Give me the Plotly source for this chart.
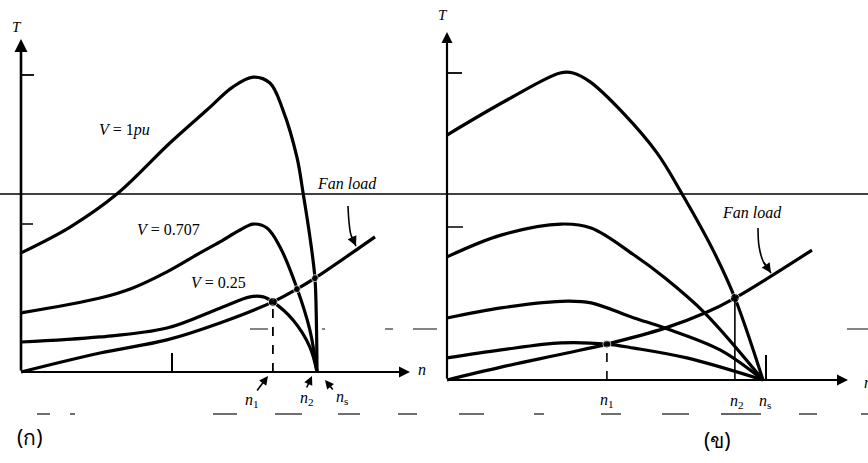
import plotly.graph_objects as go

W, H = 868, 463

# ---------------- data (per-unit speed n/ns, per-unit torque) ----------------
# Panel (ก): constant-frequency, variable-voltage
left_v1_n = [0.0, 0.166, 0.324, 0.503, 0.628, 0.716, 0.784, 0.841, 0.885, 0.932, 0.953, 0.976, 0.993, 0.998, 1.0]
left_v1_T = [0.401, 0.488, 0.599, 0.771, 0.882, 0.960, 0.993, 0.973, 0.882, 0.724, 0.603, 0.455, 0.316, 0.165, 0.0]
left_v0707_n = [0.0, 0.267, 0.378, 0.493, 0.605, 0.672, 0.740, 0.784, 0.831, 0.875, 0.932, 0.976, 1.0]
left_v0707_T = [0.199, 0.249, 0.283, 0.337, 0.401, 0.438, 0.478, 0.498, 0.485, 0.421, 0.283, 0.141, 0.0]
left_v025_n = [0.0, 0.267, 0.493, 0.672, 0.774, 0.818, 0.851, 0.919, 0.976, 1.0]
left_v025_T = [0.101, 0.118, 0.148, 0.215, 0.253, 0.253, 0.236, 0.175, 0.084, 0.0]
left_fan_n = [0.0, 0.267, 0.493, 0.672, 0.851, 0.932, 0.993, 1.196]
left_fan_T = [0.0, 0.064, 0.108, 0.165, 0.236, 0.279, 0.316, 0.455]
left_op_n = [0.851, 0.932, 0.993]
left_op_T = [0.236, 0.279, 0.316]
left_n1 = 0.851

# Panel (ข): variable-frequency curves
right_c1_n = [0.0, 0.190, 0.358, 0.399, 0.453, 0.557, 0.665, 0.744, 0.842, 0.911, 1.0]
right_c1_T = [0.798, 0.912, 1.0, 1.0, 0.971, 0.870, 0.739, 0.606, 0.423, 0.267, 0.0]
right_c2_n = [0.0, 0.171, 0.361, 0.456, 0.592, 0.690, 0.816, 1.0]
right_c2_T = [0.401, 0.472, 0.508, 0.495, 0.407, 0.332, 0.218, 0.0]
right_c3_n = [0.0, 0.171, 0.380, 0.456, 0.592, 0.690, 0.864, 1.0]
right_c3_T = [0.202, 0.235, 0.257, 0.251, 0.202, 0.169, 0.098, 0.0]
right_c4_n = [0.0, 0.171, 0.361, 0.506, 0.592, 0.759, 1.0]
right_c4_T = [0.072, 0.098, 0.121, 0.117, 0.104, 0.072, 0.0]
right_fan_n = [0.0, 0.171, 0.380, 0.506, 0.690, 0.816, 0.911, 1.155]
right_fan_T = [0.0, 0.042, 0.088, 0.117, 0.169, 0.218, 0.267, 0.423]
right_op_n = [0.506, 0.911]
right_op_T = [0.117, 0.267]
right_n1, right_n2 = 0.506, 0.911

# ---------------- figure ----------------
fig = go.Figure()
LW = 3.2
spl = dict(shape="spline", smoothing=1.0)


def curve(n, T, xa, ya, w=LW):
    fig.add_trace(go.Scatter(x=n, y=T, mode="lines", xaxis=xa, yaxis=ya,
                             line=dict(color="black", width=w, **spl),
                             hoverinfo="skip", showlegend=False))


for n, T in [(left_v1_n, left_v1_T), (left_v0707_n, left_v0707_T),
             (left_v025_n, left_v025_T), (left_fan_n, left_fan_T)]:
    curve(n, T, "x", "y")
for n, T in [(right_c1_n, right_c1_T), (right_c2_n, right_c2_T),
             (right_c3_n, right_c3_T), (right_c4_n, right_c4_T),
             (right_fan_n, right_fan_T)]:
    curve(n, T, "x2", "y2")

fig.add_trace(go.Scatter(x=left_op_n, y=left_op_T, mode="markers", xaxis="x", yaxis="y",
                         marker=dict(color="black", size=[9, 7, 7]), showlegend=False,
                         hoverinfo="skip"))
fig.add_trace(go.Scatter(x=right_op_n, y=right_op_T, mode="markers", xaxis="x2", yaxis="y2",
                         marker=dict(color="black", size=[8, 9]), showlegend=False,
                         hoverinfo="skip"))

# pixel -> data helpers for decorations
def Lpix(px, py):
    return (px - 21) / 296.0, (372 - py) / 297.0


def Rpix(px, py):
    return (px - 447) / 316.0, (380 - py) / 307.0


shapes = []
annos = []


def dline(x0, y0, x1, y1, xr, yr, w=2, dash="solid", color="black"):
    shapes.append(dict(type="line", x0=x0, y0=y0, x1=x1, y1=y1, xref=xr, yref=yr,
                       line=dict(color=color, width=w, dash=dash)))


def arrow(tip, tail, xr, yr, w=2, head=2, size=1.0):
    annos.append(dict(x=tip[0], y=tip[1], ax=tail[0], ay=tail[1], xref=xr, yref=yr,
                      axref=xr, ayref=yr, showarrow=True, arrowhead=head,
                      arrowwidth=w, arrowsize=size, arrowcolor="black", text=""))


def ptext(px, py, txt, size=16, fam="Liberation Serif", anchor="center"):
    annos.append(dict(x=px / W, y=1 - py / H, xref="paper", yref="paper", text=txt,
                      showarrow=False, xanchor=anchor, yanchor="middle",
                      font=dict(family=fam, size=size, color="black")))


# Axes (left)
arrow((0, Lpix(0, 39)[1]), (0, 0), "x", "y", w=2.6, head=2, size=1.0)
arrow((Lpix(410, 0)[0], 0), (0, 0), "x", "y", w=2.2, head=2, size=1.0)
dline(0, 1.0, Lpix(34, 0)[0], 1.0, "x", "y", w=1.8)
dline(0, Lpix(0, 224)[1], Lpix(33, 0)[0], Lpix(0, 224)[1], "x", "y", w=1.5)
dline(Lpix(172, 0)[0], 0, Lpix(172, 0)[0], Lpix(0, 353)[1], "x", "y", w=2)
dline(left_n1, 0, left_n1, left_op_T[0], "x", "y", w=1.8, dash="dash")
dline(1.0, 0, 1.0, 0.06, "x", "y", w=2)

# Axes (right)
arrow((0, Rpix(0, 32)[1]), (0, 0), "x2", "y2", w=2.2, head=2, size=1.0)
arrow((Rpix(848, 0)[0], 0), (0, 0), "x2", "y2", w=2.2, head=2, size=1.0)
dline(0, 1.0, Rpix(462, 0)[0], 1.0, "x2", "y2", w=1.8)
dline(0, Rpix(0, 227)[1], Rpix(463, 0)[0], Rpix(0, 227)[1], "x2", "y2", w=1.5)
dline(right_n1, 0, right_n1, right_op_T[0], "x2", "y2", w=1.6, dash="dash")
dline(right_n2, 0, right_n2, right_op_T[1], "x2", "y2", w=1.6)
dline(Rpix(766, 0)[0], 0, Rpix(766, 0)[0], Rpix(0, 355)[1], "x2", "y2", w=2)

# Fan-load pointer arrows (curved shaft + head)
for (pts, xa, ya, conv) in [([(348, 206), (349, 222), (351, 235), (356, 246)], "x", "y", Lpix),
                            ([(758, 228), (759, 246), (763, 261), (771, 273)], "x2", "y2", Rpix)]:
    dd = [conv(*p) for p in pts]
    fig.add_trace(go.Scatter(x=[d[0] for d in dd], y=[d[1] for d in dd], mode="lines",
                             xaxis=xa, yaxis=ya, line=dict(color="black", width=1.6, shape="spline"),
                             showlegend=False, hoverinfo="skip"))
    arrow(dd[-1], dd[-2], xa, ya, w=1.6, head=2, size=1.2)

# n-label pointer arrows (left)
arrow(Lpix(268, 376), Lpix(256, 392), "x", "y", w=1.6, head=2, size=1.1)
arrow(Lpix(312, 376), Lpix(306, 389), "x", "y", w=1.6, head=2, size=1.1)
arrow(Lpix(325, 380), Lpix(334, 391), "x", "y", w=1.6, head=2, size=1.1)

# Texts
ptext(17, 27, "<i>T</i>", 15)
ptext(443, 15, "<i>T</i>", 15)
ptext(125, 130, "<i>V</i> = 1<i>pu</i>", 16)
ptext(168, 229, "<i>V</i> = 0.707", 16)
ptext(218, 282, "<i>V</i> = 0.25", 16)
ptext(347, 183, "<i>Fan load</i>", 16)
ptext(752, 213, "<i>Fan load</i>", 16)
ptext(422, 369, "<i>n</i>", 16)
ptext(862, 382, "<i>n</i>", 16, anchor="left")
ptext(252, 400, "<i>n</i><sub>1</sub>", 16)
ptext(307, 398, "<i>n</i><sub>2</sub>", 16)
ptext(342, 397, "<i>n</i><sub>s</sub>", 16)
ptext(607, 400, "<i>n</i><sub>1</sub>", 16)
ptext(737, 401, "<i>n</i><sub>2</sub>", 16)
ptext(765, 401, "<i>n</i><sub>s</sub>", 16)
ptext(30, 437, "(ก)", 21, fam="Noto Sans")
ptext(717, 440, "(ข)", 21, fam="Noto Sans")

# Scan artefacts: long rule and faint dashes
shapes.append(dict(type="line", x0=0, x1=1, y0=1 - 194 / H, y1=1 - 194 / H,
                   xref="paper", yref="paper", line=dict(color="black", width=1.6)))
for (a, b) in [(250, 268), (322, 325), (385, 393), (413, 437), (847, 868)]:
    shapes.append(dict(type="line", x0=a / W, x1=b / W, y0=1 - 329 / H, y1=1 - 329 / H,
                       xref="paper", yref="paper", line=dict(color="#333333", width=1.2)))
for (a, b) in [(37, 50), (70, 75), (213, 237), (275, 302), (338, 360), (398, 417),
               (459, 484), (534, 544), (601, 621), (662, 689), (721, 761), (799, 817), (861, 868)]:
    shapes.append(dict(type="line", x0=a / W, x1=b / W, y0=1 - 414 / H, y1=1 - 414 / H,
                       xref="paper", yref="paper", line=dict(color="#333333", width=1.4)))

lx0, ly0 = Lpix(0, 0)
lx1, ly1 = Lpix(434, 463)
rx0, ry0 = Rpix(434, 0)
rx1, ry1 = Rpix(868, 463)

fig.update_layout(
    width=W, height=H, margin=dict(l=0, r=0, t=0, b=0),
    paper_bgcolor="white", plot_bgcolor="white", showlegend=False,
    xaxis=dict(domain=[0, 434 / W], range=[lx0, lx1], visible=False, fixedrange=True),
    yaxis=dict(domain=[0, 1], range=[ly1, ly0], visible=False, anchor="x", fixedrange=True),
    xaxis2=dict(domain=[434 / W, 1], range=[rx0, rx1], visible=False, anchor="y2", fixedrange=True),
    yaxis2=dict(domain=[0, 1], range=[ry1, ry0], visible=False, anchor="x2", fixedrange=True),
    shapes=shapes, annotations=annos,
)

fig.write_html("out.html", config={"displayModeBar": False},
               post_script="document.body.style.margin='0';document.body.style.overflow='hidden';")
